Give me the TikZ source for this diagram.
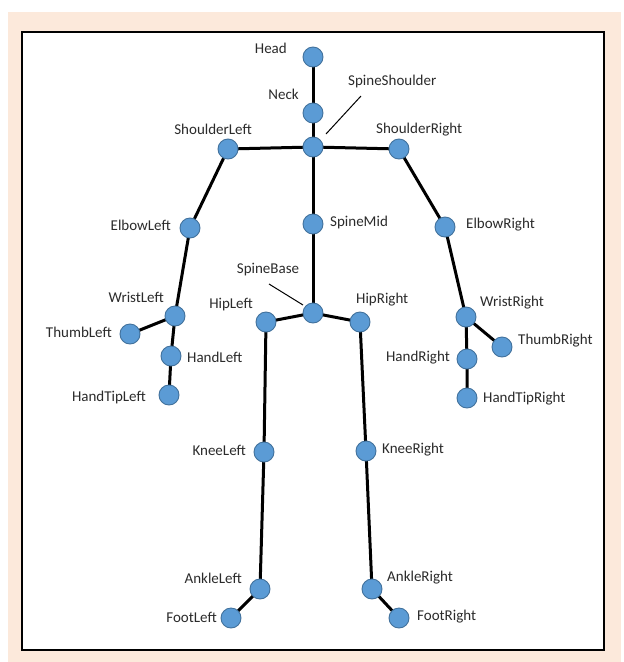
\documentclass[tikz,border=0pt]{standalone}
\usepackage{fontspec}
\setmainfont{Carlito}
\begin{document}
\begin{tikzpicture}[x=1pt,y=-1pt,
  joint/.style={circle,fill=jointblue,draw=jointedge,line width=0.9pt,minimum size=20pt,inner sep=0pt},
  bone/.style={line width=3pt,black},
  lbl/.style={text=labelgray,font=\fontsize{15}{17}\selectfont,inner sep=0pt},
  leader/.style={line width=1pt,black}]
\definecolor{jointblue}{HTML}{5B9BD5}
\definecolor{jointedge}{HTML}{41719C}
\definecolor{labelgray}{HTML}{2B2B2B}
\definecolor{peach}{HTML}{FCE9DB}
\useasboundingbox (0,0) rectangle (624,662);
\fill[white] (0,0) rectangle (624,662);
\fill[peach] (8,12) rectangle (621,662);
\draw[fill=white,line width=1.5pt] (22,32) rectangle (604,650);
% joint positions
\coordinate (head) at (313,57);
\coordinate (neck) at (313,113);
\coordinate (ss) at (313,147);
\coordinate (shl) at (228,149);
\coordinate (shr) at (399,149);
\coordinate (elbl) at (190,228);
\coordinate (elbr) at (445,227);
\coordinate (smid) at (313,224);
\coordinate (sbase) at (313,313);
\coordinate (hipl) at (266,322);
\coordinate (hipr) at (360,322);
\coordinate (wrl) at (175,316);
\coordinate (thl) at (130,334);
\coordinate (hl) at (171,356);
\coordinate (htl) at (169,395);
\coordinate (wrr) at (466,317);
\coordinate (thr) at (502,347);
\coordinate (hr) at (467,359);
\coordinate (htr) at (467,398);
\coordinate (knl) at (264,452);
\coordinate (knr) at (366,451);
\coordinate (ankl) at (260,589);
\coordinate (ankr) at (372,589);
\coordinate (ftl) at (231,618);
\coordinate (ftr) at (399,618);
% bones
\draw[bone] (head) -- (neck) -- (ss) -- (smid) -- (sbase);
\draw[bone] (shl) -- (ss) -- (shr);
\draw[bone] (shl) -- (elbl) -- (wrl) -- (hl) -- (htl);
\draw[bone] (wrl) -- (thl);
\draw[bone] (shr) -- (elbr) -- (wrr) -- (hr) -- (htr);
\draw[bone] (wrr) -- (thr);
\draw[bone] (hipl) -- (sbase) -- (hipr);
\draw[bone] (hipl) -- (knl) -- (ankl) -- (ftl);
\draw[bone] (hipr) -- (knr) -- (ankr) -- (ftr);
% joints
\foreach \j in {head,neck,ss,shl,shr,elbl,elbr,smid,sbase,hipl,hipr,wrl,thl,hl,htl,wrr,thr,hr,htr,knl,knr,ankl,ankr,ftl,ftr}
  \node[joint] (J\j) at (\j) {};
% labels
\node[lbl,anchor=east] (Lhead) at (287,48) {Head};
\node[lbl,anchor=east] (Lneck) at (299,94) {Neck};
\node[lbl,anchor=west] (Lss) at (348,81) {SpineShoulder};
\node[lbl,anchor=east] (Lshl) at (252,129) {ShoulderLeft};
\node[lbl,anchor=west] (Lshr) at (376,130) {ShoulderRight};
\node[lbl,anchor=east] (Lelbl) at (171,225) {ElbowLeft};
\node[lbl,anchor=west] (Lelbr) at (466,225) {ElbowRight};
\node[lbl,anchor=west] (Lsmid) at (330,222) {SpineMid};
\node[lbl] (Lsbase) at (268,270) {SpineBase};
\node[lbl,anchor=east] (Lhipl) at (253,305) {HipLeft};
\node[lbl,anchor=west] (Lhipr) at (356,300) {HipRight};
\node[lbl,anchor=east] (Lwrl) at (164,297) {WristLeft};
\node[lbl,anchor=east] (Lthl) at (112,332) {ThumbLeft};
\node[lbl,anchor=west] (Lhl) at (187,357) {HandLeft};
\node[lbl,anchor=east] (Lhtl) at (146,397) {HandTipLeft};
\node[lbl,anchor=west] (Lwrr) at (480,303) {WristRight};
\node[lbl,anchor=west] (Lthr) at (518,341) {ThumbRight};
\node[lbl,anchor=east] (Lhr) at (450,358) {HandRight};
\node[lbl,anchor=west] (Lhtr) at (483,399) {HandTipRight};
\node[lbl,anchor=east] (Lknl) at (246,450) {KneeLeft};
\node[lbl,anchor=west] (Lknr) at (382,450) {KneeRight};
\node[lbl,anchor=east] (Lankl) at (242,578) {AnkleLeft};
\node[lbl,anchor=west] (Lankr) at (387,578) {AnkleRight};
\node[lbl,anchor=east] (Lftl) at (217,617) {FootLeft};
\node[lbl,anchor=west] (Lftr) at (417,617) {FootRight};
% leader lines
\coordinate (ssA) at (361,96);
\coordinate (ssB) at (326,134);
\coordinate (sbA) at (269,284);
\coordinate (sbB) at (303,305);
\draw[leader] (ssA) -- (ssB);
\draw[leader] (sbA) -- (sbB);
\end{tikzpicture}
\end{document}
